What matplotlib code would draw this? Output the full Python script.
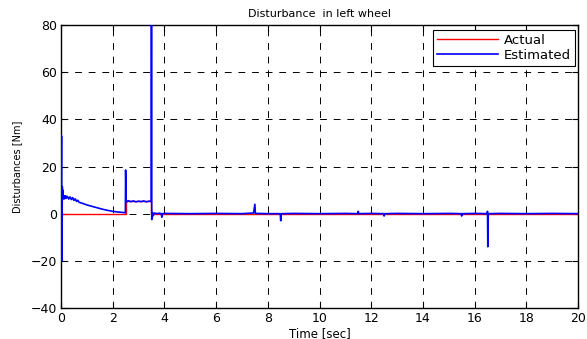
import numpy as np
import matplotlib
matplotlib.use("Agg")
import matplotlib.pyplot as plt

plt.rcParams['font.family'] = ['DejaVu Sans']
plt.rcParams['path.simplify'] = False

# actual disturbance torque (step between 2.5 and 3.5 s)
t_actual = [0.0, 2.5, 2.5, 3.5, 3.5, 20.0]
d_actual = [0.0, 0.0, 5.3, 5.3, 0.0, 0.0]

# estimated disturbance from the observer
t_est = [0.0, 0.02, 0.035, 0.05, 0.06, 0.07, 0.08, 0.09, 0.11, 0.13, 0.15, 0.18,
         0.2, 0.25, 0.3, 0.35, 0.4, 0.45, 0.5, 0.55, 0.6, 0.65, 0.7, 0.8, 0.9,
         1.0, 1.2, 1.4, 1.6, 1.8, 2.0, 2.2, 2.4, 2.49, 2.5, 2.52, 2.55, 2.6,
         2.7, 2.8, 2.9, 3.0, 3.1, 3.2, 3.3, 3.4, 3.49, 3.5, 3.51, 3.53, 3.56,
         3.6, 3.7, 3.8, 3.88, 3.9, 3.92, 4.0, 5.0, 6.0, 7.0, 7.45, 7.5, 7.52,
         7.6, 8.0, 8.48, 8.5, 8.52, 9.0, 10.0, 11.0, 11.48, 11.5, 11.52, 12.0,
         12.48, 12.5, 12.52, 13.0, 14.0, 15.0, 15.48, 15.5, 15.52, 16.0,
         16.48, 16.5, 16.51, 16.53, 17.0, 18.0, 19.0, 20.0]
d_est = [0.0, 33.0, -20.0, 11.5, 8.0, 10.0, 6.5, 7.8, 6.2, 7.5, 6.4, 7.6,
         6.5, 7.3, 6.2, 7.1, 6.0, 6.8, 5.6, 6.3, 5.2, 5.7, 4.8, 4.5, 4.1,
         3.7, 3.1, 2.5, 1.9, 1.4, 1.0, 0.7, 0.5, 0.4, 18.5, 5.6, 5.0, 5.5,
         5.1, 5.4, 5.0, 5.3, 5.1, 5.4, 5.0, 5.3, 5.2, 83.0, -2.5, 0.5, -1.0,
         0.3, 0.0, 0.2, 0.0, -1.5, 0.0, 0.1, 0.0, 0.1, 0.0, 0.3, 4.0, 0.0,
         0.1, 0.0, 0.0, -3.0, 0.0, 0.1, 0.0, 0.1, 0.0, 1.0, 0.0, 0.1,
         0.0, -1.0, 0.0, 0.1, 0.0, 0.1, 0.0, -1.0, 0.0, 0.1,
         0.0, 1.0, -14.0, 0.0, 0.1, 0.0, 0.1, 0.0]

fig = plt.figure(figsize=(5.87, 3.39), dpi=100)
ax = fig.add_axes([61/587, 31/339, 517/587, 283/339])

ax.plot(t_actual, d_actual, color='red', lw=1.0, label='Actual', zorder=3)
ax.plot(t_est, d_est, color='blue', lw=1.2, label='Estimated', zorder=3.1)

ax.set_xlim(0, 20)
ax.set_ylim(-40, 80)
ax.set_xticks(np.arange(0, 21, 2))
ax.set_yticks(np.arange(-40, 81, 20))
ax.grid(True, color='black', linestyle=(0, (7, 7)), lw=0.7)
ax.tick_params(direction='in', length=4, top=True, right=True, labelsize=9,
               width=0.8, pad=3)
for s in ax.spines.values():
    s.set_linewidth(1.0)

ax.set_title('Disturbance  in left wheel', fontsize=8, pad=6)
ax.set_xlabel('Time [sec]', fontsize=8.5, labelpad=1)
ax.set_ylabel('Disturbances [Nm]', fontsize=7, labelpad=6)

leg = ax.legend(loc='upper right', bbox_to_anchor=(0.994, 0.982),
                borderaxespad=0, fontsize=9.5, fancybox=False, framealpha=1,
                edgecolor='black', handlelength=4.6, handletextpad=0.45,
                labelspacing=0.15, borderpad=0.3)
leg.get_frame().set_linewidth(0.8)

fig.savefig('out.png', dpi=100)
